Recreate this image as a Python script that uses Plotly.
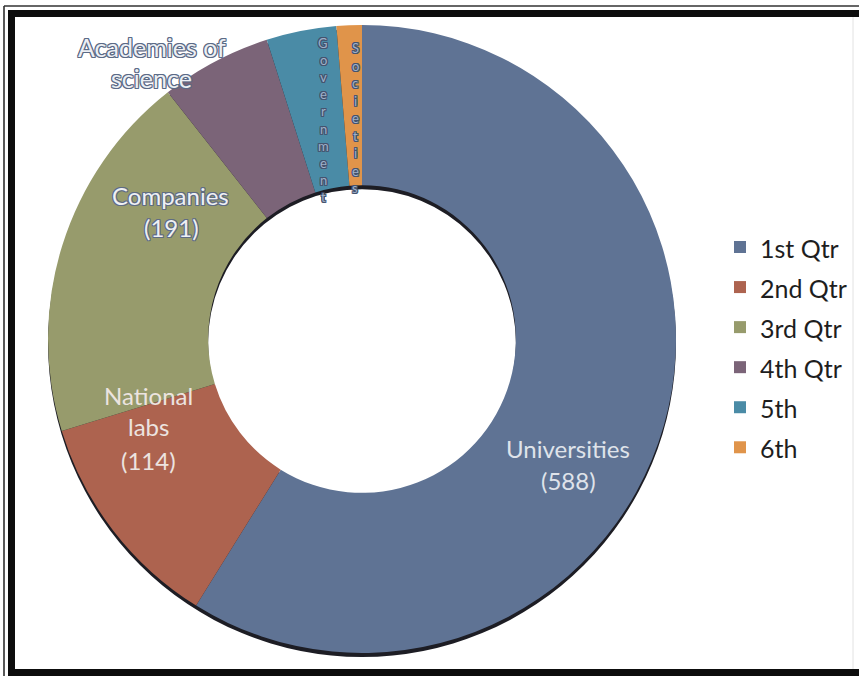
import plotly.graph_objects as go

W, H = 859, 676

# ---- data -------------------------------------------------------------
legend_names = ["1st Qtr", "2nd Qtr", "3rd Qtr", "4th Qtr", "5th", "6th"]
sectors = ["Universities", "National labs", "Companies",
           "Academies of science", "Government", "Societies"]
counts = [588, 114, 191, 57, 36, 13]
slice_colors = ["#5f7394", "#ad634f", "#979b6c", "#7b6478", "#4a8ba6", "#e0944a"]


# ---- pixel -> paper helpers (margins are zero) ------------------------
def fx(px):
    return px / W


def fy(py):
    return 1 - py / H


def pie_domain(cx, cy, r):
    return dict(x=[fx(cx - r), fx(cx + r)], y=[fy(cy + r), fy(cy - r)])


CX, CY, R = 362, 339, 314
HOLE = 0.49

fig = go.Figure()

# dark drop shadow under the ring
fig.add_trace(go.Pie(
    values=[1], hole=HOLE, domain=pie_domain(CX, CY + 4, R),
    marker=dict(colors=["#1d1d24"], line=dict(width=0)),
    textinfo="none", hoverinfo="skip", showlegend=False, sort=False,
))

# the doughnut itself
fig.add_trace(go.Pie(
    labels=[f"<span style='font-size:25px'>{n}</span>" for n in legend_names],
    values=counts,
    customdata=sectors,
    hole=HOLE,
    domain=pie_domain(CX, CY, R),
    sort=False,
    direction="clockwise",
    rotation=0,
    marker=dict(colors=slice_colors, line=dict(width=0)),
    textinfo="none",
    hovertemplate="%{customdata}: %{value}<extra></extra>",
))


def outline(color):
    offs = [(1, 0), (-1, 0), (0, 1), (0, -1), (1, 1), (-1, -1), (1, -1), (-1, 1)]
    return ", ".join(f"{dx}px {dy}px 0 {color}" for dx, dy in offs)


annotations = []


def add_text(text, x, y, size, color, shadow="none", family="Lato"):
    annotations.append(dict(
        text=text, x=fx(x), y=fy(y), xref="paper", yref="paper",
        xanchor="center", yanchor="middle", showarrow=False,
        font=dict(family=family, size=size, color=color, shadow=shadow),
    ))


LABEL_SIZE = 24

# Universities
add_text(sectors[0], 568, 448, LABEL_SIZE, "#dfe3ea")
add_text(f"({counts[0]})", 568, 480, LABEL_SIZE, "#dfe3ea")

# National labs
nat_words = sectors[1].split(" ")
add_text(nat_words[0], 148, 395, LABEL_SIZE, "#ece4e0")
add_text(nat_words[1], 148, 427, LABEL_SIZE, "#ece4e0")
add_text(f"({counts[1]})", 148, 460, LABEL_SIZE, "#ece4e0")

# Companies
add_text(sectors[2], 170, 196, LABEL_SIZE, "#eef0f4", outline("#5f6c84"))
add_text(f"({counts[2]})", 171, 228, LABEL_SIZE, "#eef0f4", outline("#5f6c84"))

# Academies of science (outside the ring)
acad_words = sectors[3].split(" ")
add_text(" ".join(acad_words[:2]), 152, 47, 25, "#eceff4", outline("#5b6a86"))
add_text(acad_words[2], 151, 78, 25, "#eceff4", outline("#5b6a86"))

# Government / Societies: letters stacked down the narrow slices
for i, ch in enumerate(sectors[4]):
    add_text(ch, 323, 43 + i * 17.1, 13, "#9fb0c8", outline("#44536e"))
for i, ch in enumerate(sectors[5]):
    add_text(ch, 355, 48 + i * 17.5, 13, "#9fb0c8", outline("#44536e"))

# ---- frame ------------------------------------------------------------
shapes = [
    dict(type="line", x0=fx(4), x1=fx(4), y0=fy(6), y1=fy(H),
         line=dict(color="#222222", width=1.5)),
    dict(type="line", x0=fx(4), x1=fx(W), y0=fy(6), y1=fy(6),
         line=dict(color="#333333", width=1.5)),
    dict(type="rect", x0=fx(8), x1=fx(15), y0=fy(10), y1=fy(H),
         fillcolor="#0d0d0d", line=dict(width=0)),
    dict(type="rect", x0=fx(8), x1=fx(W), y0=fy(10), y1=fy(17),
         fillcolor="#0d0d0d", line=dict(width=0)),
    dict(type="rect", x0=fx(8), x1=fx(W), y0=fy(669), y1=fy(H),
         fillcolor="#0d0d0d", line=dict(width=0)),
    dict(type="line", x0=fx(853), x1=fx(853), y0=fy(17), y1=fy(669),
         line=dict(color="#e2e2e2", width=1)),
]
for s in shapes:
    s.update(xref="paper", yref="paper")

fig.update_layout(
    width=W, height=H,
    margin=dict(l=0, r=0, t=0, b=0),
    paper_bgcolor="white",
    plot_bgcolor="white",
    showlegend=True,
    legend=dict(
        x=fx(720), y=fy(222), xanchor="left", yanchor="top",
        font=dict(family="Lato", size=28.5, color="#1e1e1e"),
        bgcolor="rgba(0,0,0,0)", borderwidth=0,
    ),
    annotations=annotations,
    shapes=shapes,
)

fig.write_html("out.html")
